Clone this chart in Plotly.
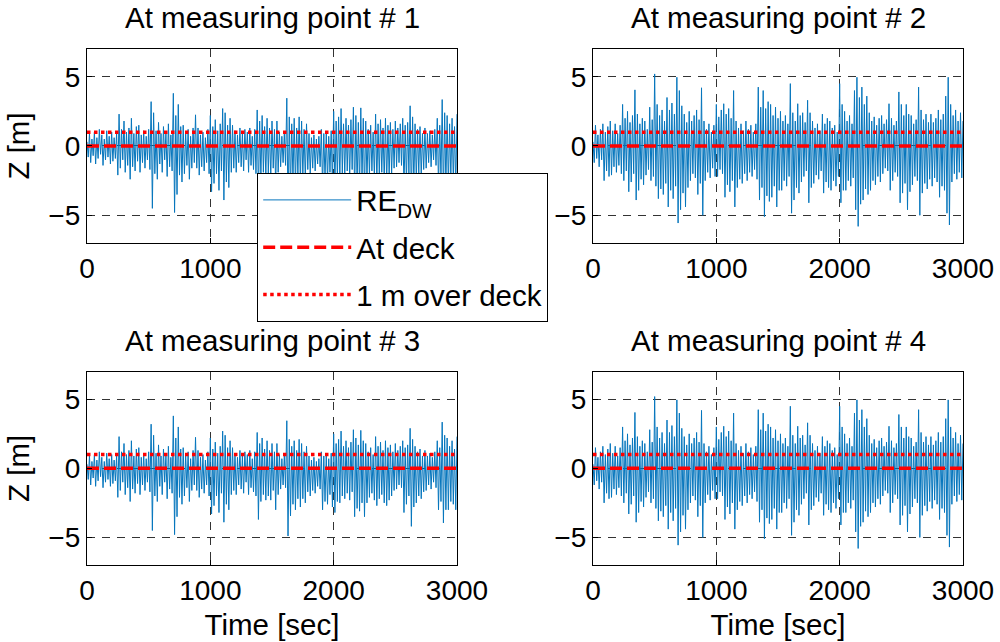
import numpy as np
import plotly.graph_objects as go

# Relative elevation time histories (m), sampled every 10 s from 0 to 3000 s
TIME_STEP_S = 10

re_dw_points_1_3 = [
    0.3, -0.8, 0.9, -1.2, 0.5, -0.7, 1.0, -1.3, 0.6, -0.9,
    1.2, -0.6, 0.8, -1.4, 0.5, -1.0, 1.1, -0.8, 0.7, -1.3, 1.0, -1.1, 0.6, -0.9,
    0.9, -2.1, 2.3, -1.6, 1.2, -1.0, 1.8, -1.9, 1.0, -1.4,
    1.3, -2.4, 2.0, -1.5, 0.9, -1.8, 1.4, -1.1,
    1.5, -1.9, 0.8, -1.2, 1.1, -1.6, 0.7, -1.0, 1.2, -1.7,
    3.2, -4.5, 2.4, -2.0,
    1.1, -2.4, 1.7, -1.3, 0.9, -1.9, 1.4, -1.0, 1.0, -2.2, 1.6, -1.5, 0.8, -1.8,
    3.8, -4.8, 2.2, -3.5, 3.0, -2.1, 1.4, -2.6,
    1.5, -2.0, 1.0, -1.4, 1.2, -2.4, 0.7, -1.6, 1.3, -1.2,
    2.25, -1.6,
    1.3, -2.1, 0.8, -1.5, 1.0, -1.8, 0.6, -1.2, 1.2, -2.0,
    2.2, -3.3, 1.4, -2.7, 1.9, -2.0, 1.1, -3.2, 1.6, -1.8,
    2.7, -3.9, 2.4, -2.6, 1.5, -3.0, 2.0, -1.9,
    1.5, -1.6, 1.1, -1.9, 0.8, -1.2, 1.3, -1.5, 0.9, -1.8, 1.2, -1.0,
    1.0, -1.9, 1.3, -1.4, 0.7, -1.7, 1.2, -2.0,
    2.6, -3.7, 1.8, -2.4, 2.2, -1.9, 1.4, -2.3,
    2.0, -2.0, 1.3, -2.3, 1.8, -1.6,
    1.2, -3.0, 1.8, -1.9,
    1.0, -1.5, 0.7, -1.2, 0.9, -1.4,
    3.45, -4.9,
    2.1, -3.45, 1.6, -2.6, 2.0, -3.0, 1.3, -2.2,
    2.1, -2.8, 1.8, -2.2, 1.2, -2.5, 1.6, -1.7,
    0.9, -2.0, 0.6, -1.6, 0.8, -1.8, 0.5, -1.3, 0.7, -1.5,
    1.2, -3.0, 0.9, -2.4, 1.0, -2.6, 0.7, -1.9, 1.1, -2.8,
    2.5, -3.2, 1.8, -2.4,
    2.1, -2.5, 2.7, -2.0, 1.6, -2.2, 2.0, -1.8,
    1.5, -2.3, 1.9, -1.7,
    2.8, -3.5, 2.2, -2.9, 1.7, -3.1, 2.75, -2.5, 2.0, -3.5,
    1.8, -2.5, 1.2, -2.1, 1.5, -1.8, 1.0, -2.3,
    2.3, -2.7, 1.6, -2.2, 1.9, -1.9, 1.3, -2.5,
    2.0, -2.7, 1.5, -2.3, 1.7, -2.0, 1.2, -1.6,
    1.8, -1.5, 1.3, -1.2, 1.6, -1.4,
    2.0, -3.2, 1.5, -2.6, 1.7, -2.0,
    2.9, -4.2, 2.1, -2.8,
    1.6, -2.5, 1.2, -2.0, 1.4, -2.2, 0.9, -1.7,
    1.3, -1.6, 0.9, -1.2, 1.1, -1.5, 0.8, -1.0, 1.2, -1.4,
    2.0, -3.0, 1.5, -2.4,
    3.35, -3.95, 2.4, -3.0,
    2.2, -3.0, 1.6, -2.4, 2.0, -2.6, 1.4, -3.0,
    2.3,
]

re_dw_points_2_4 = [
    0.3, -1.2, 1.5, -0.9, 0.8, -1.5, 1.2, -1.0,
    1.6, -2.5, 1.0, -1.8, 1.4, -2.2,
    1.8, -2.1, 1.1, -1.5, 1.6, -1.9, 0.9, -1.4, 1.5, -2.0,
    3.0, -2.5, 2.0, -1.8,
    2.5, -3.3, 1.7, -2.6, 2.2, -2.0,
    4.05, -3.9,
    2.3, -3.2, 1.6, -2.4, 2.0, -2.8,
    1.8, -2.1, 1.2, -1.7,
    2.8, -2.5, 1.9, -2.2,
    5.2, -2.9,
    3.0, -3.8, 2.2, -3.1, 2.6, -3.5, 1.8, -2.7,
    3.5, -4.4, 2.6, -3.2, 3.1, -3.8, 2.3, -2.9,
    4.96, -5.56,
    4.0, -4.6, 2.9, -3.4,
    2.3, -4.4, 1.7, -3.0,
    2.5, -2.5, 1.8, -2.0, 2.2, -2.3,
    2.6, -3.5, 1.9, -2.7,
    4.2, -5.0,
    1.8, -2.5, 1.2, -1.9, 1.6, -2.3, 1.0, -1.6, 1.5, -2.2,
    3.0, -2.2, 2.1, -1.7, 2.6, -2.0,
    3.05, -3.7, 2.3, -2.8, 2.7, -3.3, 2.0, -2.5,
    4.0, -4.4,
    1.8, -3.0, 1.3, -2.4, 1.6, -2.7, 1.1, -2.0,
    1.8, -2.5, 1.2, -1.9, 1.5, -2.2, 1.0, -1.7, 1.6, -2.4,
    4.25, -3.9, 2.8, -3.0,
    4.0, -5.1, 2.7, -3.6, 3.2, -4.0,
    3.0, -3.7, 2.2, -2.9,
    2.8, -4.4, 2.0, -3.2,
    2.5, -3.2, 1.8, -2.5, 2.2, -2.9, 1.6, -2.2,
    4.5, -4.85,
    2.4, -3.9, 1.8, -3.0,
    3.05, -3.4, 2.2, -2.6,
    2.4, -2.2, 1.7, -1.8,
    3.3, -4.1, 2.4, -3.0,
    1.8, -2.7, 1.3, -2.1, 1.6, -2.4, 1.1, -1.8,
    2.3, -3.4, 1.6, -2.6, 2.0, -3.0,
    1.8, -3.2, 1.3, -2.5, 1.5, -2.9, 1.0, -2.2,
    4.5, -4.1, 3.0, -3.2,
    2.5, -3.2, 1.8, -2.5, 2.2, -2.9, 1.6, -2.3,
    4.0, -4.6,
    4.96, -5.8, 3.5, -4.2,
    4.25, -3.9, 3.0, -3.1, 3.6, -3.5,
    2.4, -3.2, 1.8, -2.5, 2.1, -2.8, 1.5, -2.2, 2.0, -2.6,
    2.2, -2.0, 1.6, -1.6, 1.9, -1.8,
    3.05, -3.2,
    2.0, -2.5, 1.5, -1.9, 1.8, -2.2,
    3.9, -4.1,
    3.0, -3.4, 2.2, -2.7,
    3.0, -4.6, 2.3, -3.3,
    2.2, -2.8, 1.6, -2.2, 1.9, -2.5,
    4.25, -5.0,
    2.6, -3.4, 1.9, -2.7, 2.3, -3.1, 1.7, -2.4,
    2.3, -2.9, 1.7, -2.3, 2.0, -2.6,
    2.6, -3.7, 1.9, -2.9, 2.3, -3.2,
    3.6, -4.85, 4.96, -5.7,
    3.0, -2.6, 2.2, -2.0, 2.6, -2.4, 1.8, -1.9, 2.4, -2.3,
    1.8,
]

panel_titles = [
    "At measuring point # 1",
    "At measuring point # 2",
    "At measuring point # 3",
    "At measuring point # 4",
]
panel_series = [re_dw_points_1_3, re_dw_points_2_4, re_dw_points_1_3, re_dw_points_2_4]

deck_level = 0.0
over_deck_level = 1.0
time_span = [0, 3000]

x_ticks = [0, 1000, 2000, 3000]
y_ticks = [-5, 0, 5]
x_range = [0, 3000]
y_range = [-7, 7]

FONT = "Liberation Sans, Arial, sans-serif"
FS_TICK = 28
FS_TEXT = 29.5
BLUE = "#0676bd"
RED = "#ff0000"

# Axis domains in paper coordinates (2 x 2 grid)
x_domains = [[0.087, 0.457], [0.593, 0.963], [0.087, 0.457], [0.593, 0.963]]
y_domains = [[0.6215, 0.9237], [0.6215, 0.9237], [0.1199, 0.4210], [0.1199, 0.4210]]

fig = go.Figure()

for k, series in enumerate(panel_series):
    xa = "x" if k == 0 else f"x{k + 1}"
    ya = "y" if k == 0 else f"y{k + 1}"
    t = np.arange(len(series)) * TIME_STEP_S
    first = k == 0
    fig.add_trace(go.Scatter(
        x=t, y=series, mode="lines", xaxis=xa, yaxis=ya,
        line=dict(color=BLUE, width=1),
        name="RE<sub>DW</sub>", legendgroup="re", showlegend=first,
    ))
    fig.add_trace(go.Scatter(
        x=time_span, y=[deck_level, deck_level], mode="lines", xaxis=xa, yaxis=ya,
        line=dict(color=RED, width=3.5, dash="12px,5px"),
        name="At deck", legendgroup="deck", showlegend=first,
    ))
    fig.add_trace(go.Scatter(
        x=time_span, y=[over_deck_level, over_deck_level], mode="lines", xaxis=xa, yaxis=ya,
        line=dict(color=RED, width=3.5, dash="3.5px,3.5px"),
        name="1 m over deck", legendgroup="over", showlegend=first,
    ))

axis_common = dict(
    showline=True, linecolor="black", linewidth=1.2, mirror=True,
    showgrid=True, gridcolor="#333333", gridwidth=1, griddash="8px,7px",
    zeroline=False, ticks="inside", ticklen=5, tickcolor="black",
    tickfont=dict(family=FONT, size=FS_TICK, color="black"),
    automargin=False,
)

layout_axes = {}
annotations = []
for k in range(4):
    sx = "" if k == 0 else str(k + 1)
    xa_cfg = dict(axis_common, domain=x_domains[k], range=x_range,
                  tickvals=x_ticks, anchor="y" + sx)
    ya_cfg = dict(axis_common, domain=y_domains[k], range=y_range,
                  tickvals=y_ticks, anchor="x" + sx)
    if k >= 2:
        xa_cfg["title"] = dict(text="Time [sec]", font=dict(family=FONT, size=FS_TEXT, color="black"),
                               standoff=9)
    if k in (0, 2):
        ya_cfg["title"] = dict(text="Z [m]", font=dict(family=FONT, size=FS_TEXT, color="black"),
                               standoff=10)
    layout_axes["xaxis" + sx] = xa_cfg
    layout_axes["yaxis" + sx] = ya_cfg
    annotations.append(dict(
        text=panel_titles[k], xref="paper", yref="paper",
        x=sum(x_domains[k]) / 2, y=y_domains[k][1],
        xanchor="center", yanchor="bottom", yshift=13, showarrow=False,
        font=dict(family=FONT, size=FS_TEXT, color="black"),
    ))

fig.update_layout(
    width=1000, height=642,
    margin=dict(l=0, r=0, t=0, b=0),
    paper_bgcolor="white", plot_bgcolor="white",
    font=dict(family=FONT, size=FS_TICK, color="black"),
    annotations=annotations,
    showlegend=True,
    legend=dict(
        x=0.257, y=0.7305, xanchor="left", yanchor="top",
        bgcolor="white", bordercolor="black", borderwidth=1.2,
        font=dict(family=FONT, size=FS_TEXT, color="black"),
        itemwidth=88, tracegroupgap=6, traceorder="grouped",
    ),
    **layout_axes,
)

fig.write_html("out.html")
